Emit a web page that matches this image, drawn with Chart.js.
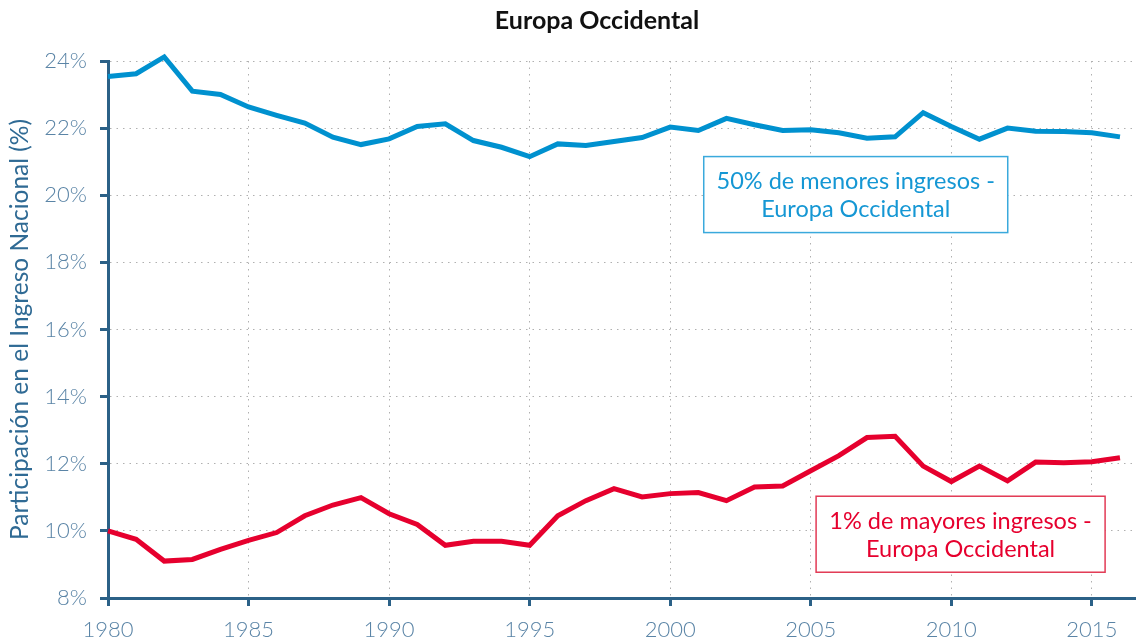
<!DOCTYPE html>
<html>
<head>
<meta charset="utf-8">
<script src="https://cdn.jsdelivr.net/npm/chart.js@4/dist/chart.umd.min.js"></script>
<style>
  html, body { margin: 0; padding: 0; background: #fff; }
  #wrap { width: 1136px; height: 642px; position: relative; }
</style>
</head>
<body>
<div id="wrap"><canvas id="myChart"></canvas></div>
<script>
const years = [1980, 1981, 1982, 1983, 1984, 1985, 1986, 1987, 1988, 1989,
  1990, 1991, 1992, 1993, 1994, 1995, 1996, 1997, 1998, 1999,
  2000, 2001, 2002, 2003, 2004, 2005, 2006, 2007, 2008, 2009,
  2010, 2011, 2012, 2013, 2014, 2015, 2016];

const bottom50 = [23.54, 23.62, 24.12, 23.10, 23.00, 22.63, 22.38, 22.15, 21.73, 21.51,
  21.68, 22.05, 22.13, 21.63, 21.43, 21.15, 21.53, 21.48, 21.60, 21.72,
  22.03, 21.93, 22.29, 22.10, 21.93, 21.95, 21.86, 21.70, 21.74, 22.46,
  22.05, 21.67, 22.00, 21.91, 21.90, 21.86, 21.74];

const top1 = [10.00, 9.75, 9.10, 9.15, 9.45, 9.72, 9.95, 10.45, 10.77, 10.99,
  10.51, 10.19, 9.57, 9.69, 9.69, 9.57, 10.45, 10.90, 11.26, 11.01,
  11.11, 11.14, 10.90, 11.31, 11.34, 11.79, 12.24, 12.78, 12.82, 11.93,
  11.47, 11.93, 11.49, 12.05, 12.03, 12.06, 12.18];

const seriesNames = ['50% de menores ingresos - Europa Occidental', '1% de mayores ingresos - Europa Occidental'];
const yTicks = [8, 10, 12, 14, 16, 18, 20, 22, 24];
const xTicks = [1980, 1985, 1990, 1995, 2000, 2005, 2010, 2015];

const axisColor = '#2b6187';
const tickText = '#5a84a6';
const blue = '#0091cf';
const red = '#e6002e';

// titulo del grafico
const titlePlugin = {
    id: 'titlePlugin',
    afterDraw(chart) {
        const {ctx} = chart;
        ctx.save();
        ctx.fillStyle = '#111';
        ctx.font = 'bold 25px Lato';
        ctx.textAlign = 'center';
        ctx.textBaseline = 'middle';
        ctx.fillText('Europa Occidental', 597, 21);
        ctx.restore();
    }
};

// cajas de texto sobre las lineas
const boxes = [
    {lines: ['50% de menores ingresos -', 'Europa Occidental'], x: 2006.6, y: 20.02, w: 304, h: 76, color: '#1597d4', border: '#3aa9dc'},
    {lines: ['1% de mayores ingresos -', 'Europa Occidental'], x: 2010.33, y: 9.9, w: 289, h: 76, color: red, border: '#e23a55'}
];
const labelPlugin = {
    id: 'labelPlugin',
    afterDatasetsDraw(chart) {
        const {ctx, scales: {x, y}} = chart;
        ctx.save();
        boxes.forEach(b => {
            const cx = x.getPixelForValue(b.x);
            const cy = y.getPixelForValue(b.y);
            ctx.fillStyle = '#fff';
            ctx.fillRect(cx - b.w / 2, cy - b.h / 2, b.w, b.h);
            ctx.strokeStyle = b.border;
            ctx.lineWidth = 1.5;
            ctx.strokeRect(cx - b.w / 2, cy - b.h / 2, b.w, b.h);
            ctx.fillStyle = b.color;
            ctx.font = '23.5px Lato';
            ctx.textAlign = 'center';
            ctx.textBaseline = 'middle';
            ctx.fillText(b.lines[0], cx, cy - 13);
            ctx.fillText(b.lines[1], cx, cy + 15);
        });
        ctx.restore();
    }
};

const data = {
    labels: years,
    datasets: [{
        label: seriesNames[0],
        data: years.map((yr, i) => ({x: yr, y: bottom50[i]})),
        borderColor: blue,
        borderWidth: 5,
        pointRadius: 0,
        tension: 0,
        clip: false
    }, {
        label: seriesNames[1],
        data: years.map((yr, i) => ({x: yr, y: top1[i]})),
        borderColor: red,
        borderWidth: 5,
        pointRadius: 0,
        tension: 0,
        clip: false
    }]
};

const config = {
    type: 'line',
    data,
    plugins: [titlePlugin, labelPlugin],
    options: {
        responsive: true,
        maintainAspectRatio: false,
        animation: false,
        layout: { padding: { top: 61, right: 0, left: 0, bottom: 0 } },
        plugins: {
            legend: { display: false },
            tooltip: { enabled: false }
        },
        scales: {
            x: {
                type: 'linear',
                min: 1980,
                max: 2016.57,
                afterFit(scale) { scale.height = 44; },
                afterBuildTicks(scale) { scale.ticks = xTicks.map(v => ({value: v})); },
                ticks: {
                    color: tickText,
                    font: { family: 'Lato', size: 22, weight: 300 },
                    padding: 11,
                    maxRotation: 0,
                    callback: v => String(v)
                },
                grid: {
                    color: '#b0b0b0',
                    lineWidth: 1,
                    tickColor: axisColor,
                    tickWidth: 3,
                    tickLength: 8,
                    tickBorderDash: []
                },
                border: { color: axisColor, width: 3, dash: [1.5, 5] }
            },
            y: {
                min: 8,
                max: 24,
                afterFit(scale) { scale.width = 108; },
                afterBuildTicks(scale) { scale.ticks = yTicks.map(v => ({value: v})); },
                ticks: {
                    color: tickText,
                    font: { family: 'Lato', size: 22, weight: 300 },
                    padding: 13,
                    callback: v => v + '%'
                },
                grid: {
                    color: '#b0b0b0',
                    lineWidth: 1,
                    tickColor: axisColor,
                    tickWidth: 3,
                    tickLength: 8,
                    tickBorderDash: []
                },
                border: { color: axisColor, width: 3, dash: [1.5, 5] },
                title: {
                    display: true,
                    text: 'Participación en el Ingreso Nacional (%)',
                    color: '#2f6a94',
                    font: { family: 'Lato', size: 24.5 },
                    padding: { top: 5, bottom: 0 }
                }
            }
        }
    }
};

const myChart = new Chart(document.getElementById('myChart'), config);
</script>
</body>
</html>
